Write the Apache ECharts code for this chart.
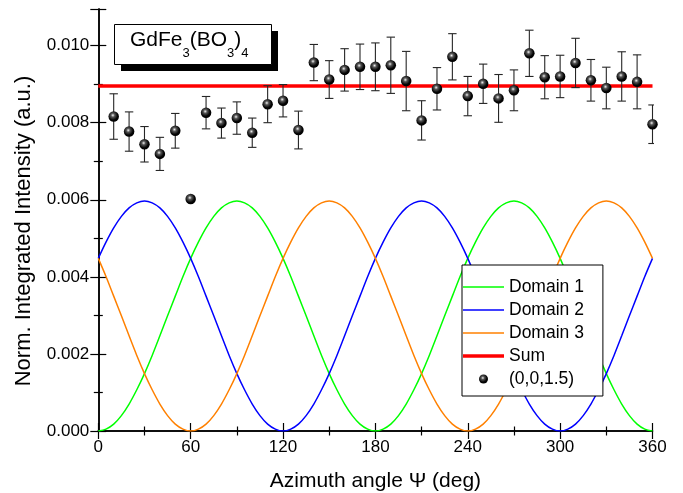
<!DOCTYPE html>
<html>
<head>
<meta charset="utf-8">
<script src="https://cdn.jsdelivr.net/npm/echarts@6/dist/echarts.min.js"></script>
<style>
html,body{margin:0;padding:0;background:#fff;}
#chart{width:683px;height:493px;}
</style>
</head>
<body>
<div id="chart"></div>
<script>
// ---- data ----
const curveAngles = [0,5,10,15,20,25,30,35,40,45,50,55,60,65,70,75,80,85,90,95,100,105,110,115,120,125,130,135,140,145,150,155,160,165,170,175,180,185,190,195,200,205,210,215,220,225,230,235,240,245,250,255,260,265,270,275,280,285,290,295,300,305,310,315,320,325,330,335,340,345,350,355,360];
const domain1 = [0,0.00005,0.00018,0.0004,0.0007,0.00107,0.00149,0.00196,0.00247,0.00299,0.0035,0.00401,0.00448,0.0049,0.00527,0.00557,0.00579,0.00592,0.00597,0.00592,0.00579,0.00557,0.00527,0.0049,0.00448,0.00401,0.0035,0.00299,0.00247,0.00196,0.00149,0.00107,0.0007,0.0004,0.00018,0.00005,0,
  0.00005,0.00018,0.0004,0.0007,0.00107,0.00149,0.00196,0.00247,0.00299,0.0035,0.00401,0.00448,0.0049,0.00527,0.00557,0.00579,0.00592,0.00597,0.00592,0.00579,0.00557,0.00527,0.0049,0.00448,0.00401,0.0035,0.00299,0.00247,0.00196,0.00149,0.00107,0.0007,0.0004,0.00018,0.00005,0];
const domain2 = [0.00448,0.0049,0.00527,0.00557,0.00579,0.00592,0.00597,0.00592,0.00579,0.00557,0.00527,0.0049,0.00448,0.00401,0.0035,0.00299,0.00247,0.00196,0.00149,0.00107,0.0007,0.0004,0.00018,0.00005,0,0.00005,0.00018,0.0004,0.0007,0.00107,0.00149,0.00196,0.00247,0.00299,0.0035,0.00401,0.00448,
  0.0049,0.00527,0.00557,0.00579,0.00592,0.00597,0.00592,0.00579,0.00557,0.00527,0.0049,0.00448,0.00401,0.0035,0.00299,0.00247,0.00196,0.00149,0.00107,0.0007,0.0004,0.00018,0.00005,0,0.00005,0.00018,0.0004,0.0007,0.00107,0.00149,0.00196,0.00247,0.00299,0.0035,0.00401,0.00448];
const domain3 = [0.00448,0.00401,0.0035,0.00299,0.00247,0.00196,0.00149,0.00107,0.0007,0.0004,0.00018,0.00005,0,0.00005,0.00018,0.0004,0.0007,0.00107,0.00149,0.00196,0.00247,0.00299,0.0035,0.00401,0.00448,0.0049,0.00527,0.00557,0.00579,0.00592,0.00597,0.00592,0.00579,0.00557,0.00527,0.0049,0.00448,
  0.00401,0.0035,0.00299,0.00247,0.00196,0.00149,0.00107,0.0007,0.0004,0.00018,0.00005,0,0.00005,0.00018,0.0004,0.0007,0.00107,0.00149,0.00196,0.00247,0.00299,0.0035,0.00401,0.00448,0.0049,0.00527,0.00557,0.00579,0.00592,0.00597,0.00592,0.00579,0.00557,0.00527,0.0049,0.00448];
const sumAngles = [0, 360];
const sumValues = [0.00895, 0.00895];

const angles = [10,20,30,40,50,60,70,80,90,100,110,120,130,140,150,160,170,180,190,200,210,220,230,240,250,260,270,280,290,300,310,320,330,340,350,360];
const intensity = [0.00816,0.00777,0.00744,0.00719,0.00779,0.00602,0.00826,0.00799,0.00812,0.00774,0.00848,0.00857,0.00781,0.00956,0.00912,0.00937,0.00945,0.00945,0.00949,0.00908,0.00806,0.00888,0.00971,0.00869,0.00901,0.00863,0.00884,0.0098,0.00918,0.0092,0.00955,0.0091,0.0089,0.0092,0.00906,0.00796];
const errors = [0.00059,0.00051,0.00046,0.00043,0.00045,0,0.00042,0.00039,0.00042,0.00038,0.00048,0.00042,0.00049,0.00047,0.00049,0.00055,0.00059,0.00062,0.00073,0.00077,0.00051,0.00055,0.0006,0.00051,0.00051,0.00062,0.00053,0.0006,0.00056,0.00055,0.00064,0.00054,0.00054,0.00064,0.0007,0.0005];

const xTicksMin = 0, xTicksMax = 360, xTickStep = 60;
const yTicksMin = 0, yTicksMax = 0.01095, yTickStep = 0.002;
const seriesNames = ['Domain 1','Domain 2','Domain 3','Sum','(0,0,1.5)'];
const xAxisTitle = 'Azimuth angle \u03A8 (deg)';
const yAxisTitle = 'Norm. Integrated Intensity (a.u.)';

// ---- chart ----
const FONT = '"Liberation Sans", Arial, sans-serif';
const zip = (xs, ys) => xs.map((x, i) => [x, ys[i]]);
const axisLine = {show: true, lineStyle: {color: '#000', width: 1.5}};
const tick = {show: true, inside: true, length: 8, lineStyle: {color: '#000', width: 1.2}};
const minor = {show: true, splitNumber: 2, length: 4.5, lineStyle: {color: '#000', width: 1.2}};

const ballColor = {
  type: 'radial', x: 0.42, y: 0.38, r: 0.6,
  colorStops: [
    {offset: 0, color: '#f2f2f2'},
    {offset: 0.3, color: '#555'},
    {offset: 0.75, color: '#050505'},
    {offset: 1, color: '#000'}
  ]
};
const thinLineIcon = 'path://M0,0 L41,0 L41,1.6 L0,1.6 Z';
const thickLineIcon = 'path://M0,0 L41,0 L41,3.6 L0,3.6 Z';

const chart = echarts.init(document.getElementById('chart'), null, {renderer: 'canvas'});
chart.setOption({
  animation: false,
  backgroundColor: '#fff',
  textStyle: {fontFamily: FONT},
  grid: {left: 98.3, right: 30.5, top: 9, bottom: 62, containLabel: false, outerBoundsMode: 'none'},
  title: {
    text: '{n|GdFe}{s|3}{n|(BO}{s|3}{n|)}{s|4}',
    left: 130, top: 30, padding: 0, z: 200,
    textStyle: {
      fontWeight: 'normal',
      rich: {
        n: {fontFamily: FONT, fontSize: 21, fontWeight: 'normal', color: '#000', lineHeight: 24, verticalAlign: 'top'},
        s: {fontFamily: FONT, fontSize: 13, fontWeight: 'normal', color: '#000', lineHeight: 13, verticalAlign: 'top', padding: [17, 0, 0, 0]}
      }
    }
  },
  graphic: [
    {type: 'rect', z: 100, left: 121, top: 31, shape: {width: 157, height: 40}, style: {fill: '#000'}},
    {type: 'rect', z: 101, left: 114, top: 24, shape: {width: 157, height: 40}, style: {fill: '#fff', stroke: '#000', lineWidth: 1}},
    {type: 'text', z: 101, x: 24, y: 231, rotation: Math.PI / 2,
      style: {text: yAxisTitle, font: '22px ' + FONT, fill: '#000', textAlign: 'center', textVerticalAlign: 'middle'}}
  ],
  legend: {
    orient: 'vertical', left: 462, top: 265,
    data: [
      {name: seriesNames[0], icon: thinLineIcon},
      {name: seriesNames[1], icon: thinLineIcon},
      {name: seriesNames[2], icon: thinLineIcon},
      {name: seriesNames[3], icon: thickLineIcon},
      {name: seriesNames[4], icon: 'circle'}
    ],
    itemWidth: 41, itemHeight: 9, itemGap: 5,
    padding: [13, 19, 8, 1],
    backgroundColor: '#fff', borderColor: '#000', borderWidth: 1,
    textStyle: {fontFamily: FONT, fontSize: 17.5, color: '#000', lineHeight: 17},
    z: 150
  },
  xAxis: [
    {type: 'value', position: 'bottom', min: xTicksMin, max: xTicksMax, interval: xTickStep,
      axisLine: axisLine, axisTick: tick, minorTick: minor, splitLine: {show: false},
      axisLabel: {fontSize: 17, color: '#000', margin: 8, fontFamily: FONT},
      name: xAxisTitle, nameLocation: 'middle', nameGap: 40,
      nameTextStyle: {fontSize: 21, color: '#000', fontFamily: FONT}},
    {type: 'value', position: 'top', min: xTicksMin, max: xTicksMax, interval: xTickStep,
      axisLine: axisLine, axisTick: tick, minorTick: minor, splitLine: {show: false},
      axisLabel: {show: false}}
  ],
  yAxis: [
    {type: 'value', position: 'left', min: yTicksMin, max: yTicksMax, interval: yTickStep,
      axisLine: axisLine, axisTick: tick, minorTick: minor, splitLine: {show: false},
      axisLabel: {fontSize: 17, color: '#000', margin: 9, fontFamily: FONT,
        formatter: v => (v > 0.0101 ? '' : v.toFixed(3))}},
    {type: 'value', position: 'right', min: yTicksMin, max: yTicksMax, interval: yTickStep,
      axisLine: axisLine, axisTick: tick, minorTick: minor, splitLine: {show: false},
      axisLabel: {show: false}}
  ],
  series: [
    {name: 'Domain 1', type: 'line', data: zip(curveAngles, domain1), symbol: 'none', smooth: 0.3,
      lineStyle: {color: '#00ff00', width: 1.5}, itemStyle: {color: '#00ff00'}, z: 3},
    {name: 'Domain 2', type: 'line', data: zip(curveAngles, domain2), symbol: 'none', smooth: 0.3,
      lineStyle: {color: '#0000ff', width: 1.5}, itemStyle: {color: '#0000ff'}, z: 3},
    {name: 'Domain 3', type: 'line', data: zip(curveAngles, domain3), symbol: 'none', smooth: 0.3,
      lineStyle: {color: '#ff8000', width: 1.5}, itemStyle: {color: '#ff8000'}, z: 3},
    {name: 'Sum', type: 'line', data: zip(sumAngles, sumValues), symbol: 'none',
      lineStyle: {color: '#ff0000', width: 3.5}, itemStyle: {color: '#ff0000'}, z: 4},
    {name: 'errorbars', type: 'custom', clip: true, z: 5,
      data: angles.map((a, i) => [a, intensity[i], errors[i]]),
      encode: {x: 0, y: 1},
      renderItem: (params, api) => {
        const x = api.value(0), y = api.value(1), e = api.value(2);
        if (!e) return null;
        const t = api.coord([x, y + e]), b = api.coord([x, y - e]);
        const hw = 4.2;
        const st = {stroke: '#262626', lineWidth: 1.1};
        return {type: 'group', children: [
          {type: 'line', shape: {x1: t[0], y1: t[1], x2: b[0], y2: b[1]}, style: st},
          {type: 'line', shape: {x1: t[0] - hw, y1: t[1], x2: t[0] + hw, y2: t[1]}, style: st},
          {type: 'line', shape: {x1: b[0] - hw, y1: b[1], x2: b[0] + hw, y2: b[1]}, style: st}
        ]};
      }},
    {name: '(0,0,1.5)', type: 'scatter', data: zip(angles, intensity), symbol: 'circle', symbolSize: 10.5,
      clip: true, itemStyle: {color: ballColor, opacity: 1}, z: 6}
  ]
});
</script>
</body>
</html>
